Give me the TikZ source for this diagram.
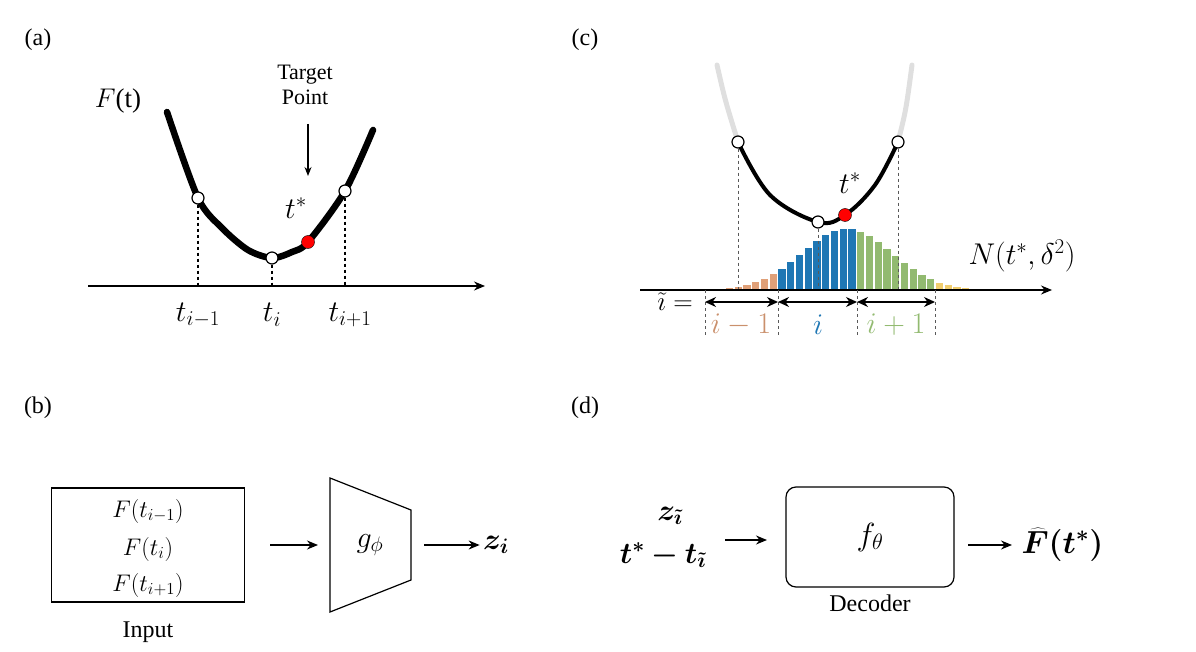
\RequirePackage{fix-cm}
\documentclass[tikz,border=0pt]{standalone}
\usepackage{fontspec}
\usepackage{bm}
\setmainfont{Liberation Serif}
\usetikzlibrary{arrows.meta}
\definecolor{barorange}{RGB}{224,160,120}
\definecolor{barblue}{RGB}{31,119,180}
\definecolor{bargreen}{RGB}{146,186,112}
\definecolor{baryellow}{RGB}{240,205,110}
\tikzset{my label/.style={font=\fontsize{24}{28}\selectfont},
  my math/.style={font=\fontsize{30}{34}\selectfont},
  my dot/.style={circle, draw, line width=1.2pt, fill=white, inner sep=0pt, minimum size=12pt},
  my arrow/.style={-{Stealth[length=11pt,width=9pt]}, line width=1.5pt},
  my dash/.style={dashed, line width=1.2pt},}

\begin{document}
\begin{tikzpicture}[x=1pt,y=-1pt]
\useasboundingbox (0,0) rectangle (1196,652);
% (a)
\node [my label] (la) at ( 38, 40) {(a)};
\node [font=\fontsize{27}{30}\selectfont] (Ft) at (118,101) {$F$(t)};
\draw [line width=6.5pt, line cap=round] plot [smooth, tension=0.5] coordinates {(167,112) (198,198) (222,228) (248,250) (272,258) (292,252) (308,242) (345,191) (373,130)};
\coordinate (axa) at (88,286); \coordinate (axb) at (485,286);
\draw [my arrow] (axa) -- (axb);
\node [my dot] (p1) at (198,198) {};
\node [my dot] (p2) at (272,258) {};
\node [my dot] (p3) at (345,191) {};
\node [circle, draw, fill=red, inner sep=0pt, minimum size=13pt] (ps) at (308,242) {};
\draw [my dash] (p1) -- (198,286);
\draw [my dash] (p2) -- (272,286);
\draw [my dash] (p3) -- (345,286);
\node [my math] (t1) at (198,315) {$t_{i-1}$};
\node [my math] (t2) at (272,315) {$t_{i}$};
\node [my math] (t3) at (350,315) {$t_{i+1}$};
\node [font=\fontsize{22}{25}\selectfont, align=center] (tp) at (305,85) {Target\\Point};
\coordinate (tq) at (308,176);
\draw [-{Stealth[length=9pt,width=7pt]}, line width=1.2pt] (308,124) -- (tq);
\node [my math] (ts) at (296,208) {$t^*$};
% (c)
\node [my label] (lc) at (585, 40) {(c)};
\foreach \k in {0,...,30} {
  \pgfmathsetmacro{\bx}{712+8.75*\k}
  \pgfmathsetmacro{\bh}{61*exp(-0.5*((\bx-847)/45)^2)}
  \pgfmathtruncatemacro{\bc}{\k<8 ? 1 : (\k<17 ? 2 : (\k<26 ? 3 : 4))}
  \ifcase\bc\or\def\bcol{barorange}\or\def\bcol{barblue}\or\def\bcol{bargreen}\or\def\bcol{baryellow}\fi
  \fill [\bcol] (\bx-3.6,290) rectangle (\bx+3.6,290-\bh);
}
\draw [line width=5pt, gray!25, line cap=round] (717,65) .. controls (725,100) .. (738,142);
\draw [line width=5pt, gray!25, line cap=round] (898,142) .. controls (906,110) .. (912,65);
\draw [line width=4pt] plot [smooth, tension=0.6] coordinates {(738,142) (770,195) (818,222) (845,215) (875,185) (898,142)};
\node [my dot] (q1) at (738,142) {};
\node [my dot] (q2) at (818,222) {};
\node [my dot] (q3) at (898,142) {};
\node [circle, draw, fill=red, inner sep=0pt, minimum size=13pt] (qs) at (845,215) {};
\draw [dashed, gray!70!black, line width=1pt] (q1) -- (738,290);
\draw [dashed, gray!70!black, line width=1pt] (q2) -- (818,290);
\draw [dashed, gray!70!black, line width=1pt] (q3) -- (898,290);
\coordinate (cxa) at (640,290); \coordinate (cxb) at (1052,290);
\draw [my arrow, line width=1.3pt] (cxa) -- (cxb);
\foreach \x in {705,778,857,935} \draw [dashed, gray!70!black, line width=1pt] (\x,290) -- (\x,336);
\foreach \a/\b in {705/778,778/857,857/935}
  \draw [{Stealth[length=11pt,width=10pt]}-{Stealth[length=11pt,width=10pt]}, line width=1.5pt] (\a,302) -- (\b,302);
\node [font=\fontsize{27}{30}\selectfont] (ti) at (675,302) {$\tilde\imath =$};
\node [my math, text=barorange!90!black] (ci1) at (741,325) {$i-1$};
\node [my math, text=barblue] (ci2) at (818,325) {$i$};
\node [my math, text=bargreen] (ci3) at (896,325) {$i+1$};
\node [my math] (nd) at (1022,256) {$N(t^*,\delta^2)$};
\node [my math] (cs) at (850,183) {$t^*$};
% (b)
\node [my label] (lb) at ( 38,408) {(b)};
\node [draw, line width=1.2pt, minimum width=193pt, minimum height=114pt] (inp) at (148,545) {};
\node [font=\fontsize{24}{28}\selectfont] (f1) at (148,511) {$F(t_{i-1})$};
\node [font=\fontsize{24}{28}\selectfont] (f2) at (148,549) {$F(t_{i})$};
\node [font=\fontsize{24}{28}\selectfont] (f3) at (148,585) {$F(t_{i+1})$};
\node [my label] (il) at (148,632) {Input};
\draw [line width=1.2pt] (330,478) -- (411,510) -- (411,580) -- (330,612) -- cycle;
\node [my math] (g) at (370,545) {$g_\phi$};
\coordinate (ga) at (270,545); \coordinate (gb) at (318,545);
\draw [my arrow] (ga) -- (gb);
\node [my math] (z) at (496,545) {$\bm{z_i}$};
\coordinate (gr) at (424,545);
\draw [my arrow] (gr) -- (z.west);
% (d)
\node [my label] (ld) at (585,408) {(d)};
\node [my math] (zt) at (670,516) {$\bm{z_{\tilde\imath}}$};
\node [my math] (tt) at (663,555) {$\bm{t^*-t_{\tilde\imath}}$};
\node [draw, rounded corners=10pt, line width=1.2pt, minimum width=168pt, minimum height=100pt] (dec) at (870,537) {};
\node [font=\fontsize{32}{36}\selectfont] (f) at (870,537) {$f_\theta$};
\node [my label] (dl) at (870,603) {Decoder};
\coordinate (da) at (725,540); \coordinate (db) at (767,540);
\draw [my arrow] (da) -- (db);
\node [font=\fontsize{32}{36}\selectfont, anchor=west] (fh) at (1018,545) {$\bm{\widehat{F}(t^*)}$};
\coordinate (dc) at (968,545); \coordinate (dd) at (1012,545);
\draw [my arrow] (dc) -- (dd);
\end{tikzpicture}
\end{document}
